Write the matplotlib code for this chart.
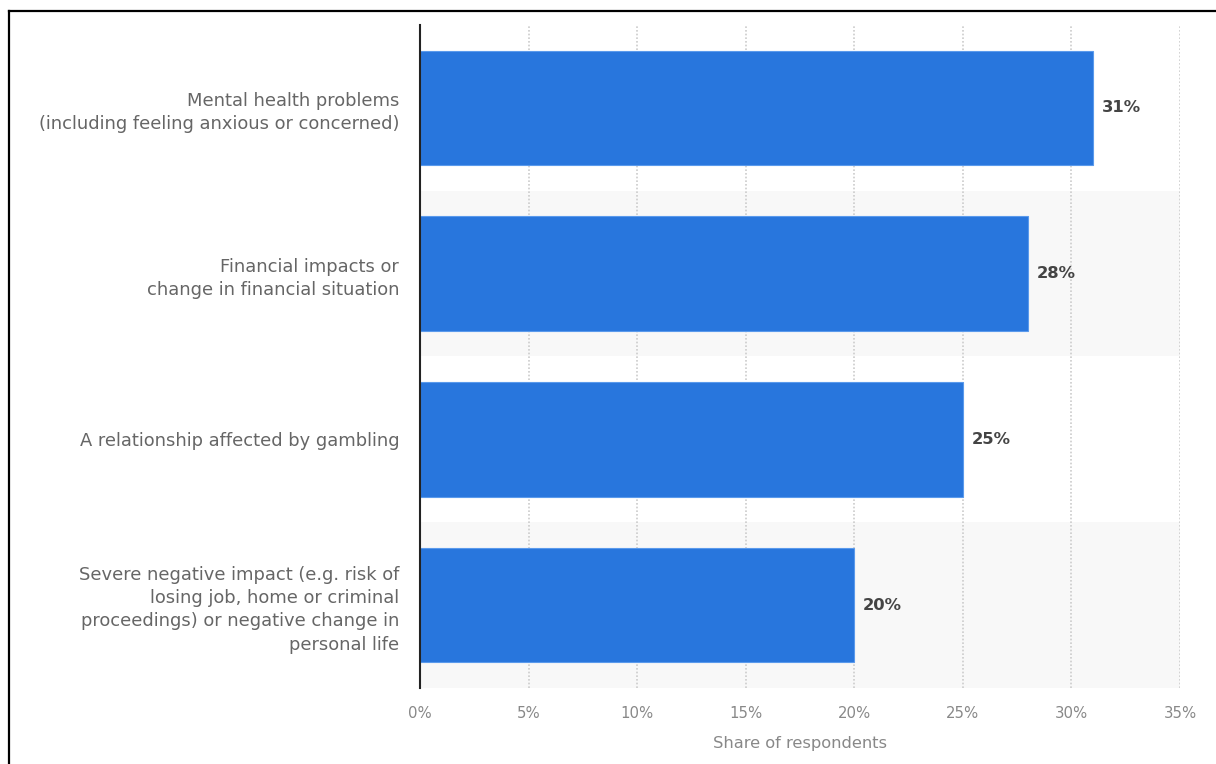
import matplotlib.pyplot as plt
from matplotlib.lines import Line2D

plt.rcParams['font.family'] = ['DejaVu Sans']

categories = [
    'Mental health problems\n(including feeling anxious or concerned)',
    'Financial impacts or\nchange in financial situation',
    'A relationship affected by gambling',
    'Severe negative impact (e.g. risk of\nlosing job, home or criminal\nproceedings) or negative change in\npersonal life',
]
values = [31, 28, 25, 20]
ticks = [0, 5, 10, 15, 20, 25, 30, 35]

fig = plt.figure(figsize=(12.16, 7.64), dpi=100)
ax = fig.add_axes([0.3454, 0.0995, 0.625, 0.8678])

y = list(range(len(values)))
ax.set_xlim(0, 35)
ax.set_ylim(len(values) - 0.5, -0.5)

# alternating row bands
for i in y:
    if i % 2 == 1:
        ax.axhspan(i - 0.5, i + 0.5, color='#f8f8f8', zorder=0, lw=0)

for t in ticks[1:]:
    ax.axvline(t, color='#cccccc', lw=1.2, ls=(0, (1, 1.2)), zorder=1)

ax.barh(y, values, height=0.69, color='#2876dd', edgecolor='#5a9aec',
        linewidth=0.8, zorder=2)
for i, v in zip(y, values):
    ax.text(v + 0.4, i, f'{v}%', va='center', ha='left', fontsize=11.8,
            fontweight='bold', color='#444444')

ax.set_yticks(y)
ax.set_yticklabels(categories, fontsize=12.9, color='#666666', linespacing=1.38)
ax.set_xticks(ticks)
ax.set_xticklabels([f'{t}%' for t in ticks], fontsize=10.7, color='#888888')
ax.tick_params(axis='both', length=0)
ax.tick_params(axis='y', pad=15)
ax.tick_params(axis='x', pad=13)
ax.set_xlabel('Share of respondents', fontsize=11.7, color='#888888', labelpad=10.5)

for s in ['top', 'right', 'bottom']:
    ax.spines[s].set_visible(False)
ax.spines['left'].set_color('#222222')
ax.spines['left'].set_linewidth(1.5)
ax.spines['left'].set_zorder(3)

# outer frame lines (top and left)
fig.add_artist(Line2D([0.0078, 1.0], [0.9856, 0.9856], color='black', lw=1.6,
                      transform=fig.transFigure))
fig.add_artist(Line2D([0.0078, 0.0078], [0.0, 0.9856], color='black', lw=1.6,
                      transform=fig.transFigure))

plt.savefig('out.png', dpi=100)
